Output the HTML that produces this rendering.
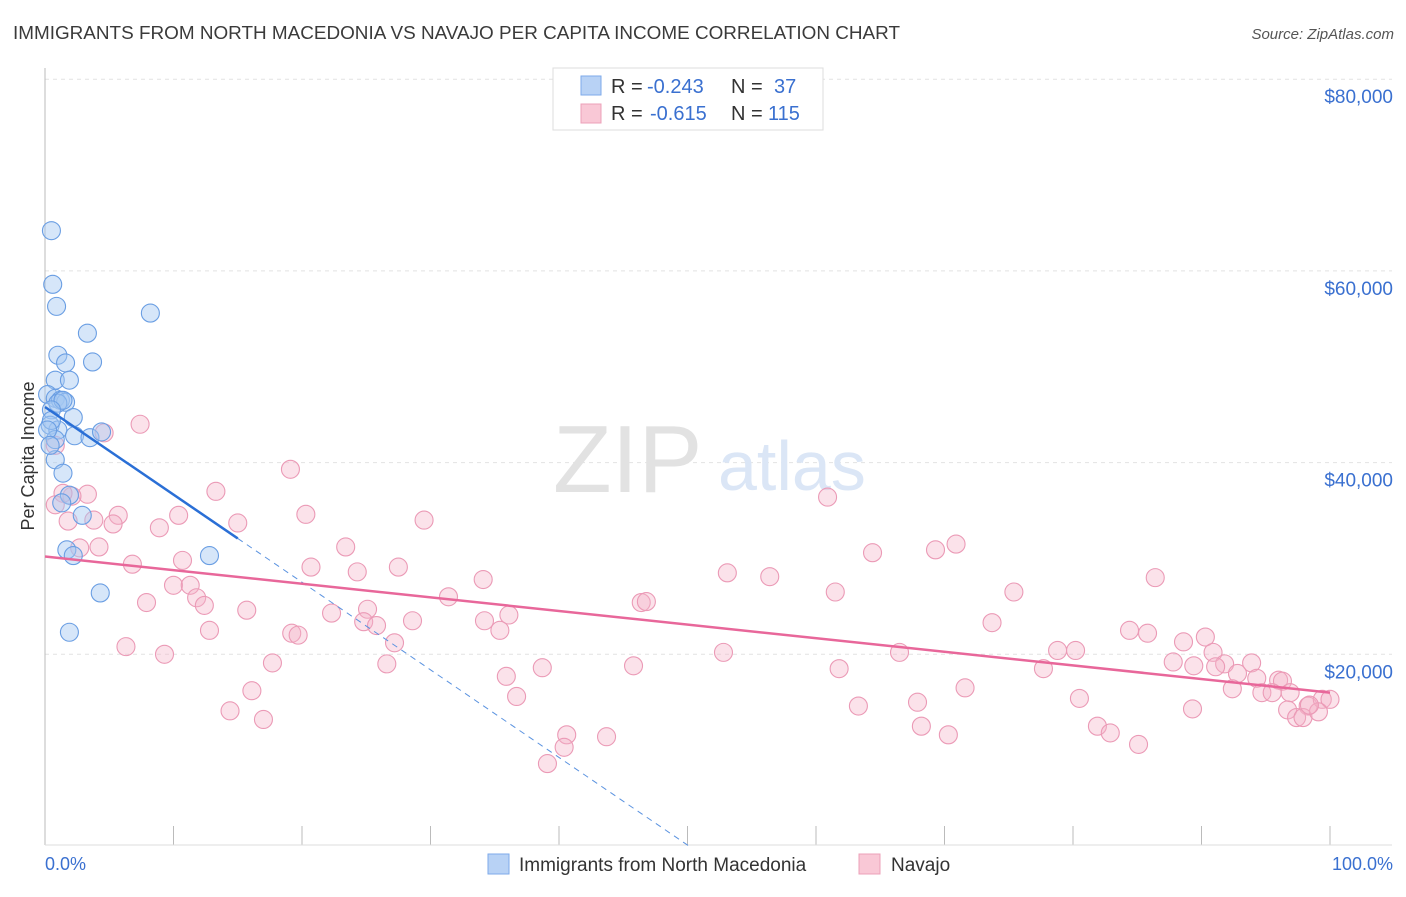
<!DOCTYPE html>
<html><head><meta charset="utf-8"><style>
body{margin:0;background:#fff;font-family:"Liberation Sans",sans-serif}
svg text{font-family:"Liberation Sans",sans-serif}
</style></head><body>
<svg id="chart" width="1406" height="892" xmlns="http://www.w3.org/2000/svg">
<text x="13" y="39" font-size="18" fill="#3a3a3a" textLength="887" lengthAdjust="spacingAndGlyphs">IMMIGRANTS FROM NORTH MACEDONIA VS NAVAJO PER CAPITA INCOME CORRELATION CHART</text>
<text x="1394" y="39" font-size="15" fill="#555" text-anchor="end" font-style="italic">Source: ZipAtlas.com</text>
<g id="grid"></g>
<text x="553" y="492" font-size="96" font-family="Liberation Serif" fill="#e2e2e2">ZIP</text>
<text x="718" y="490" font-size="70" fill="#dbe6f6">atlas</text>
<line x1="45" y1="68" x2="45" y2="845" stroke="#bbb"/>
<line x1="45" y1="845" x2="1392" y2="845" stroke="#ddd"/>
<text transform="translate(34,456) rotate(-90)" font-size="18" fill="#333" text-anchor="middle">Per Capita Income</text>
<g id="marks"></g>
<g>
<rect x="553" y="68" width="270" height="62" fill="#fff" stroke="#ddd"/>
<rect x="581" y="76" width="20" height="19" fill="#b8d2f5" stroke="#7eaaea"/>
<rect x="581" y="104" width="20" height="19" fill="#f9c8d6" stroke="#eca0b8"/>
<text x="611" y="93" font-size="20" fill="#333">R =</text>
<text x="647" y="93" font-size="20" fill="#3a70d0">-0.243</text>
<text x="731" y="93" font-size="20" fill="#333">N =</text>
<text x="774" y="93" font-size="20" fill="#3a70d0">37</text>
<text x="611" y="120" font-size="20" fill="#333">R =</text>
<text x="650" y="120" font-size="20" fill="#3a70d0">-0.615</text>
<text x="731" y="120" font-size="20" fill="#333">N =</text>
<text x="768" y="120" font-size="20" fill="#3a70d0">115</text>
</g>
<text x="45" y="870" font-size="18" fill="#3a70d0">0.0%</text>
<text x="1393" y="870" font-size="18" fill="#3a70d0" text-anchor="end">100.0%</text>
<g>
<rect x="488" y="854" width="21" height="20" fill="#b8d2f5" stroke="#7eaaea"/>
<text x="519" y="871" font-size="19" fill="#333">Immigrants from North Macedonia</text>
<rect x="859" y="854" width="21" height="20" fill="#f9c8d6" stroke="#eca0b8"/>
<text x="891" y="871" font-size="19" fill="#333">Navajo</text>
</g>
</svg>
<script>
const yTicks=[20000,40000,60000,80000];
const yTickLabels=["$20,000","$40,000","$60,000","$80,000"];
const xTicks=[0,10,20,30,40,50,60,70,80,90,100];
const blueX=[0.5,0.6,0.9,8.2,3.3,1.0,3.7,1.6,0.8,1.9,0.2,0.8,1.2,1.6,1.0,1.4,0.5,2.2,0.4,1.0,2.3,3.5,4.4,0.8,0.8,1.4,1.9,1.3,2.9,1.7,2.2,12.8,4.3,1.9,0.5,0.2,0.4];
const blueY=[64.2,58.6,56.3,55.6,53.5,51.2,50.5,50.4,48.6,48.6,47.1,46.7,46.5,46.3,46.2,46.5,45.5,44.7,43.9,43.4,42.8,42.6,43.2,42.4,40.3,38.9,36.6,35.8,34.5,30.9,30.3,30.3,26.4,22.3,44.4,43.4,41.8];
const pinkX=[7.4,4.6,0.8,19.1,13.3,3.3,2.1,1.4,0.8,5.7,10.4,20.3,29.5,1.8,3.8,5.3,15.0,8.9,60.9,23.4,4.2,2.7,70.9,69.3,64.4,10.7,6.8,20.7,27.5,24.3,53.1,56.4,86.4,34.1,10.0,11.3,11.8,12.4,7.9,31.4,46.4,46.8,61.5,75.4,15.7,22.3,25.1,24.8,36.1,34.2,25.8,28.6,73.7,12.8,19.2,19.7,35.4,84.4,85.8,27.2,6.3,88.6,90.3,9.3,52.8,66.5,78.8,80.2,90.9,17.7,26.6,38.7,45.8,77.7,87.8,89.4,91.8,91.1,93.9,61.8,92.8,94.3,96.0,96.3,35.9,16.1,36.7,71.6,92.4,94.7,95.5,96.9,80.5,67.9,63.3,89.3,14.4,96.7,98.3,99.4,100,17.0,97.4,97.9,99.1,68.2,81.9,82.9,40.6,43.7,70.3,40.4,85.1,39.1,98.4];
const pinkY=[44.0,43.1,41.8,39.3,37.0,36.7,36.5,36.8,35.6,34.5,34.5,34.6,34.0,33.9,34.0,33.6,33.7,33.2,36.4,31.2,31.2,31.1,31.5,30.9,30.6,29.8,29.4,29.1,29.1,28.6,28.5,28.1,28.0,27.8,27.2,27.2,25.9,25.1,25.4,26.0,25.4,25.5,26.5,26.5,24.6,24.3,24.7,23.4,24.1,23.5,23.0,23.5,23.3,22.5,22.2,22.0,22.5,22.5,22.2,21.2,20.8,21.3,21.8,20.0,20.2,20.2,20.4,20.4,20.2,19.1,19.0,18.6,18.8,18.5,19.2,18.8,19.0,18.7,19.1,18.5,18.0,17.5,17.3,17.2,17.7,16.2,15.6,16.5,16.4,16.0,16.0,16.0,15.4,15.0,14.6,14.3,14.1,14.2,14.6,15.3,15.3,13.2,13.4,13.4,14.0,12.5,12.5,11.8,11.6,11.4,11.6,10.3,10.6,8.6,14.7];
const blueTrend=[45.8,-0.914];
const blueSolidEnd=15;
const pinkTrend=[30.2,-0.142];
const NS="http://www.w3.org/2000/svg";
const sx=p=>45+p*12.85;
const sy=k=>846-k*9.585;
const grid=document.getElementById('grid'),marks=document.getElementById('marks');
function mk(tag,attrs,parent){const e=document.createElementNS(NS,tag);for(const k in attrs)e.setAttribute(k,attrs[k]);parent.appendChild(e);return e;}
yTicks.forEach((v,i)=>{
 const y=sy(v/1000);
 const l=mk('line',{x1:45,x2:1392,y1:y,y2:y,stroke:'#e2e2e2','stroke-dasharray':'4,4'},grid);
 
 
 const t=mk('text',{x:1393,y:y+24,'font-size':19,fill:'#3a70d0','text-anchor':'end'},grid);
 t.textContent=yTickLabels[i];
 
 
});
xTicks.forEach(p=>{
 const l=mk('line',{x1:sx(p),x2:sx(p),y1:826,y2:845,stroke:'#bbb'},grid);
 
 
});
pinkX.forEach((x,i)=>{
 const c=mk('circle',{cx:sx(x),cy:sy(pinkY[i]),r:9,fill:'rgba(245,180,200,0.38)',stroke:'#eb9ab6','stroke-width':1.1},marks);
 
 
});
blueX.forEach((x,i)=>{
 const c=mk('circle',{cx:sx(x),cy:sy(blueY[i]),r:9,fill:'rgba(165,200,242,0.45)',stroke:'#6a9ee3','stroke-width':1.1},marks);
 
 
});
const bz=-blueTrend[0]/blueTrend[1];
const bd=mk('line',{x1:sx(blueSolidEnd),y1:sy(blueTrend[0]+blueTrend[1]*blueSolidEnd),x2:sx(bz),y2:sy(0),stroke:'#5b93e0','stroke-dasharray':'6,5','stroke-width':1},marks);


const bl=mk('line',{x1:sx(0),y1:sy(blueTrend[0]),x2:sx(blueSolidEnd),y2:sy(blueTrend[0]+blueTrend[1]*blueSolidEnd),stroke:'#2a6fd6','stroke-width':2.5},marks);


const pl=mk('line',{x1:sx(0),y1:sy(pinkTrend[0]),x2:sx(100),y2:sy(pinkTrend[0]+pinkTrend[1]*100),stroke:'#e8679a','stroke-width':2.5},marks);


</script>
</body></html>
